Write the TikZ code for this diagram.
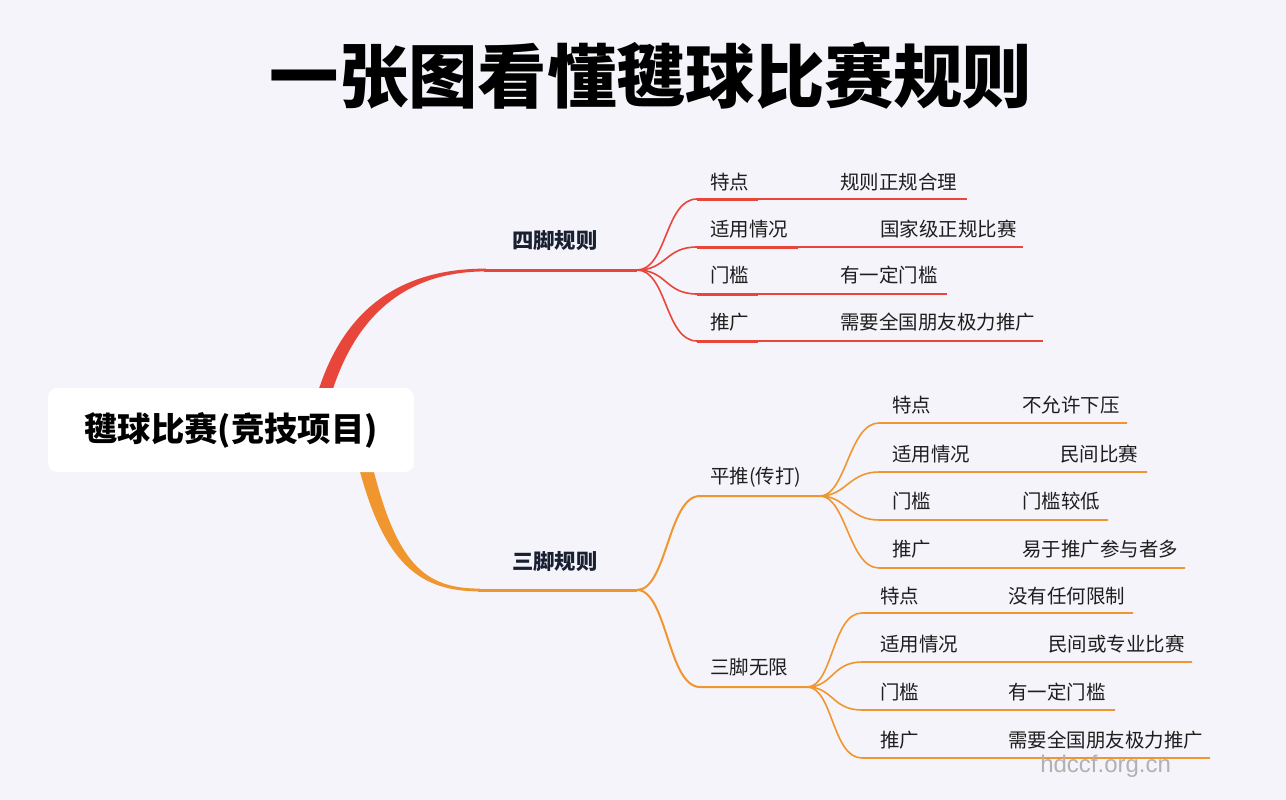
\documentclass[tikz,border=0pt]{standalone}
\usepackage{fontspec}
\setmainfont{Noto Sans CJK SC}
\newfontfamily\wmfont{Liberation Sans}
\usepackage{tikz}
\definecolor{bgc}{RGB}{244,244,250}
\definecolor{redc}{RGB}{232,70,58}
\definecolor{orgc}{RGB}{240,150,46}
\definecolor{navyc}{RGB}{24,32,50}
\definecolor{txtc}{RGB}{30,30,30}
\definecolor{wmc}{RGB}{178,178,178}

\begin{document}
\begin{tikzpicture}[x=0.75pt,y=0.75pt,yscale=-1,xscale=1,
  leaf/.style={anchor=west,inner sep=0.75pt,text=txtc,font=\fontsize{14.6}{17}\selectfont},
  branchlabel/.style={anchor=west,inner sep=0.75pt,text=navyc,font=\fontsize{16}{19}\selectfont\bfseries},
  rootbox/.style={fill=white,rounded corners=7pt,minimum width=274.5pt,minimum height=63pt,inner sep=0pt,text=black,font=\fontsize{25}{30}\selectfont\bfseries},
  redkey/.style={draw=redc,line width=2.25pt},
  redline/.style={draw=redc,line width=1.2pt},
  orgline/.style={draw=orgc,line width=1.2pt}]
%set diagram to the size of the picture
\fill[bgc] (0,0) rectangle (1286,800);
\useasboundingbox (0,0) rectangle (1286,800);

% Title
\node[inner sep=0pt,font=\fontsize{52}{60}\selectfont\bfseries] (title) at (651,76) {一张图看懂毽球比赛规则};

%Main branches (tapered towards the root)
\fill[redc] (315,402) .. controls (343,300) and (410,268.6) .. (486,268.6) -- (486,271.4) .. controls (416,271.4) and (356,305) .. (329,402) -- cycle;
\fill[orgc] (357,460) .. controls (383,565) and (420,591.4) .. (480,591.4) -- (480,588.6) .. controls (425,588.6) and (396,565) .. (371,460) -- cycle;
\coordinate (redmid) at (484,270);
\coordinate (redfan) at (637,270);
\coordinate (orgmid) at (478,590);
\coordinate (orgfan) at (637,590);
\draw[redc,line width=2.25pt] (redmid) -- (redfan);
\draw[orgc,line width=2.25pt] (orgmid) -- (orgfan);

% Root
\node[rootbox] (root) at (231,430) {毽球比赛(竞技项目)};

% Text Node
\node[branchlabel] (fourfoot) at (511,241) {四脚规则};
% Text Node
\node[branchlabel] (threefoot) at (511,562) {三脚规则};

%Four-foot rules
\coordinate (r1a) at (697,199); \coordinate (r1b) at (758,199); \coordinate (r1c) at (967,199);
\coordinate (r2a) at (697,247); \coordinate (r2b) at (798,247); \coordinate (r2c) at (1023,247);
\coordinate (r3a) at (697,294); \coordinate (r3b) at (758,294); \coordinate (r3c) at (947,294);
\coordinate (r4a) at (697,341); \coordinate (r4b) at (758,341); \coordinate (r4c) at (1043,341);
\draw[redline] (redfan) .. controls +(30,0) and +(-32,0) .. (r1a);
\draw[redline] (redfan) .. controls +(30,0) and +(-32,0) .. (r2a);
\draw[redline] (redfan) .. controls +(30,0) and +(-32,0) .. (r3a);
\draw[redline] (redfan) .. controls +(30,0) and +(-32,0) .. (r4a);
\draw[redkey] (r1a) -- (r1b); \draw[redline] (r1b) -- (r1c);
\draw[redkey] (r2a) -- (r2b); \draw[redline] (r2b) -- (r2c);
\draw[redkey] (r3a) -- (r3b); \draw[redline] (r3b) -- (r3c);
\draw[redkey] (r4a) -- (r4b); \draw[redline] (r4b) -- (r4c);
\node[leaf] (r1k) at (709,182) {特点};
\node[leaf] (r1v) at (839,182) {规则正规合理};
\node[leaf] (r2k) at (709,229) {适用情况};
\node[leaf] (r2v) at (879,229) {国家级正规比赛};
\node[leaf] (r3k) at (709,275) {门槛};
\node[leaf] (r3v) at (839,275) {有一定门槛};
\node[leaf] (r4k) at (709,322) {推广};
\node[leaf] (r4v) at (839,322) {需要全国朋友极力推广};

%Three-foot rules: sub branches
\coordinate (pa) at (700,496); \coordinate (pfan) at (820,496);
\coordinate (sa) at (700,687); \coordinate (sfan) at (807,687);
\draw[orgc,line width=1.5pt] (orgfan) .. controls +(30,0) and +(-32,0) .. (pa) -- (pfan);
\draw[orgc,line width=1.5pt] (orgfan) .. controls +(30,0) and +(-32,0) .. (sa) -- (sfan);
\node[leaf] (push) at (709,477) {平推(传打)};
\node[leaf] (free) at (709,667) {三脚无限};

%Ping tui
\coordinate (p1a) at (879,423); \coordinate (p1c) at (1127,423);
\coordinate (p2a) at (879,472); \coordinate (p2c) at (1147,472);
\coordinate (p3a) at (879,520); \coordinate (p3c) at (1108,520);
\coordinate (p4a) at (879,568); \coordinate (p4c) at (1185,568);
\draw[orgline] (pfan) .. controls +(26,0) and +(-30,0) .. (p1a) -- (p1c);
\draw[orgline] (pfan) .. controls +(26,0) and +(-30,0) .. (p2a) -- (p2c);
\draw[orgline] (pfan) .. controls +(26,0) and +(-30,0) .. (p3a) -- (p3c);
\draw[orgline] (pfan) .. controls +(26,0) and +(-30,0) .. (p4a) -- (p4c);
\node[leaf] (p1k) at (891,405) {特点};
\node[leaf] (p1v) at (1021,405) {不允许下压};
\node[leaf] (p2k) at (891,454) {适用情况};
\node[leaf] (p2v) at (1059,454) {民间比赛};
\node[leaf] (p3k) at (891,501) {门槛};
\node[leaf] (p3v) at (1021,501) {门槛较低};
\node[leaf] (p4k) at (891,549) {推广};
\node[leaf] (p4v) at (1021,549) {易于推广参与者多};

%San jiao wu xian
\coordinate (s1a) at (862,613); \coordinate (s1c) at (1133,613);
\coordinate (s2a) at (862,662); \coordinate (s2c) at (1192,662);
\coordinate (s3a) at (862,710); \coordinate (s3c) at (1115,710);
\coordinate (s4a) at (862,758); \coordinate (s4c) at (1210,758);
\draw[orgline] (sfan) .. controls +(26,0) and +(-30,0) .. (s1a) -- (s1c);
\draw[orgline] (sfan) .. controls +(26,0) and +(-30,0) .. (s2a) -- (s2c);
\draw[orgline] (sfan) .. controls +(26,0) and +(-30,0) .. (s3a) -- (s3c);
\draw[orgline] (sfan) .. controls +(26,0) and +(-30,0) .. (s4a) -- (s4c);
\node[leaf] (s1k) at (879,596) {特点};
\node[leaf] (s1v) at (1007,596) {没有任何限制};
\node[leaf] (s2k) at (879,644) {适用情况};
\node[leaf] (s2v) at (1047,644) {民间或专业比赛};
\node[leaf] (s3k) at (879,692) {门槛};
\node[leaf] (s3v) at (1007,692) {有一定门槛};
\node[leaf] (s4k) at (879,740) {推广};
\node[leaf] (s4v) at (1007,740) {需要全国朋友极力推广};

% Watermark
\node[anchor=west,inner sep=0pt,text=wmc,font=\wmfont\fontsize{18}{20}\selectfont] (mark) at (1040,766) {hdccf.org.cn};

\end{tikzpicture}
\end{document}
